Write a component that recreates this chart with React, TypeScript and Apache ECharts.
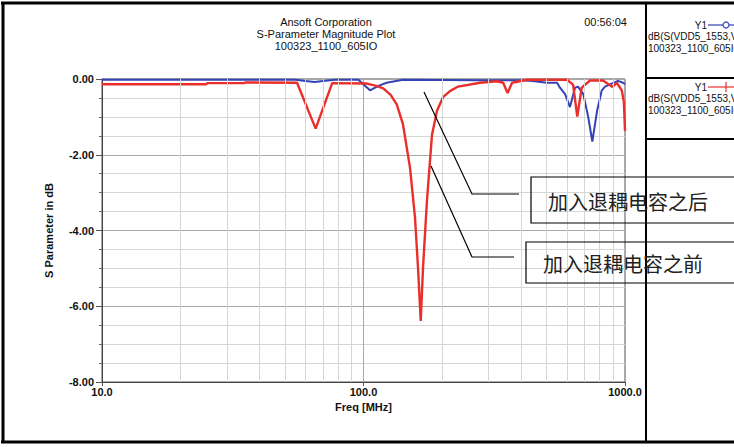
import React, { useEffect, useRef } from 'react';
import * as echarts from 'echarts';

// Frequencies in MHz and magnitudes in dB
const redFreq = [10, 25, 25.3, 35, 35.3, 55.7, 65.6, 75.9, 103, 112, 119, 127, 134, 141.6, 150.6, 157.4, 161.6, 165.5, 168.9, 174.9, 182.8, 191, 201.4, 214.1, 230, 279, 324, 342, 355.6, 370, 422, 600, 633, 657, 683, 735, 824, 896, 930, 972, 990, 1000];
const redDb = [-0.14, -0.14, -0.11, -0.11, -0.09, -0.1, -1.31, -0.11, -0.12, -0.18, -0.25, -0.42, -0.67, -1.2, -2.34, -3.66, -4.98, -6.39, -4.98, -3.2, -1.47, -0.84, -0.48, -0.32, -0.2, -0.1, -0.06, -0.1, -0.37, -0.1, -0.02, -0.02, -0.15, -0.99, -0.23, -0.04, -0.04, -0.21, -0.1, -0.3, -0.6, -1.37];

const blueFreq = [10, 55, 60, 65, 70, 78, 95.6, 105.9, 114, 122.6, 141.6, 279, 400, 445, 502, 550, 564, 590, 616, 644, 661, 693, 724, 750, 782, 815, 839, 890, 940, 983, 1000];
const blueDb = [-0.02, -0.02, -0.05, -0.08, -0.05, -0.02, -0.02, -0.3, -0.18, -0.1, -0.02, -0.03, -0.03, -0.05, -0.1, -0.1, -0.23, -0.4, -0.74, -0.23, -0.2, -0.4, -1.02, -1.65, -0.84, -0.3, -0.2, -0.12, -0.05, -0.1, -0.14];

const xMinorGrid = [20, 30, 40, 50, 60, 70, 80, 90, 200, 300, 400, 500, 600, 700, 800, 900];

const titleLines = ['Ansoft Corporation', 'S-Parameter Magnitude Plot', '100323_1100_605IO'];
const timeStamp = '00:56:04';
const legendTraces = ['dB(S(VDD5_1553,VDD5_1553))', 'dB(S(VDD5_1553,VDD5_1553))'];
const legendProject = '100323_1100_605IO';
const annotations = ['加入退耦电容之后', '加入退耦电容之前'];

const BLUE = '#3342b4';
const RED = '#ea2f2a';
const FONT = 'Liberation Sans, Arial, sans-serif';

export default function App() {
  const ref = useRef<HTMLDivElement>(null);

  useEffect(() => {
    if (!ref.current) return;
    const chart = echarts.init(ref.current, undefined, { renderer: 'svg' });

    const txt = (text: string, x: number, y: number, size: number, align = 'left', extra: any = {}) => ({
      type: 'text',
      x,
      y,
      z: 100,
      silent: true,
      style: {
        text,
        fontSize: size,
        fontFamily: FONT,
        fill: '#111',
        align,
        textAlign: align,
        verticalAlign: 'middle',
        textVerticalAlign: 'middle',
        ...extra,
      },
    });
    const ln = (x1: number, y1: number, x2: number, y2: number, w: number, color = '#000') => ({
      type: 'line',
      z: 100,
      silent: true,
      shape: { x1, y1, x2, y2 },
      style: { stroke: color, lineWidth: w },
    });

    const graphics: any[] = [
      // outer frame and panel dividers
      ln(1, 3, 734, 3, 3),
      ln(3, 2, 3, 443, 3),
      ln(1, 442, 734, 442, 3),
      ln(646, 2, 646, 443, 2),
      ln(646, 78, 734, 78, 2),
      ln(646, 139, 734, 139, 2),
      // titles
      txt(titleLines[0], 326, 22, 11, 'center'),
      txt(titleLines[1], 326, 34, 11, 'center'),
      txt(titleLines[2], 326, 46, 11, 'center'),
      txt(timeStamp, 627, 22, 11, 'right'),
      // legend panel
      txt('Y1', 707, 25, 10, 'right'),
      ln(708, 25, 734, 25, 1.2, BLUE),
      {
        type: 'circle', z: 101, silent: true,
        shape: { cx: 726, cy: 25, r: 3 },
        style: { fill: '#fff', stroke: BLUE, lineWidth: 1.2 },
      },
      txt(legendTraces[0], 648, 36.5, 10),
      txt(legendProject, 648, 48, 10),
      txt('Y1', 707, 87, 10, 'right'),
      ln(708, 87, 734, 87, 1.2, RED),
      ln(726, 82, 726, 92, 1.2, RED),
      txt(legendTraces[1], 648, 98.5, 10),
      txt(legendProject, 648, 110, 10),
      // annotation leader lines
      {
        type: 'polyline', z: 100, silent: true,
        shape: { points: [[424, 92], [472, 194], [519, 194]] },
        style: { stroke: '#000', lineWidth: 1.2, fill: 'none' },
      },
      {
        type: 'polyline', z: 100, silent: true,
        shape: { points: [[431, 166], [472, 257], [514, 257]] },
        style: { stroke: '#000', lineWidth: 1.2, fill: 'none' },
      },
      // annotation boxes
      {
        type: 'rect', z: 100, silent: true,
        shape: { x: 531, y: 177, width: 240, height: 46 },
        style: { fill: 'none', stroke: '#000', lineWidth: 1.2 },
      },
      {
        type: 'rect', z: 100, silent: true,
        shape: { x: 526, y: 242, width: 240, height: 41 },
        style: { fill: 'none', stroke: '#000', lineWidth: 1.2 },
      },
      txt(annotations[0], 548, 201, 20, 'left', { fontFamily: 'Noto Sans CJK SC', fill: '#222' }),
      txt(annotations[1], 543, 263, 20, 'left', { fontFamily: 'Noto Sans CJK SC', fill: '#222' }),
    ];

    chart.setOption({
      animation: false,
      grid: {
        left: 102,
        right: 109,
        top: 79,
        bottom: 65,
        show: true,
        borderColor: '#555',
        borderWidth: 1,
        backgroundColor: 'transparent',
      },
      xAxis: {
        type: 'log',
        logBase: 10,
        min: 10,
        max: 1000,
        axisLine: { show: true, onZero: false, lineStyle: { color: '#444', width: 1 } },
        axisTick: { show: true, length: 4, lineStyle: { color: '#555' } },
        axisLabel: {
          formatter: (v: number) => Number(v).toFixed(1),
          fontWeight: 'bold',
          fontSize: 11,
          fontFamily: FONT,
          color: '#111',
          margin: 4,
        },
        splitLine: { show: true, lineStyle: { color: '#a8a8a8', width: 1 } },
        name: 'Freq [MHz]',
        nameLocation: 'middle',
        nameGap: 19,
        nameTextStyle: { fontWeight: 'bold', fontSize: 11, fontFamily: FONT, color: '#111' },
      },
      yAxis: {
        type: 'value',
        min: -8,
        max: 0,
        interval: 2,
        axisLine: { show: true, onZero: false, lineStyle: { color: '#444', width: 1 } },
        axisTick: { show: true, length: 6, lineStyle: { color: '#555' } },
        minorTick: { show: true, splitNumber: 4, length: 3, lineStyle: { color: '#666' } },
        axisLabel: {
          formatter: (v: number) => (Math.abs(v) < 1e-9 ? '0.00' : v.toFixed(2)),
          fontWeight: 'bold',
          fontSize: 11,
          fontFamily: FONT,
          color: '#111',
          margin: 8,
        },
        splitLine: { show: true, lineStyle: { color: '#a8a8a8', width: 1 } },
        minorSplitLine: { show: true, lineStyle: { color: '#d6d6d6', width: 1 } },
        name: 'S Parameter in dB',
        nameLocation: 'middle',
        nameGap: 48,
        nameTextStyle: { fontWeight: 'bold', fontSize: 11, fontFamily: FONT, color: '#111' },
      },
      series: [
        {
          // helper series carrying the minor log grid lines and their ticks
          type: 'line',
          name: 'grid',
          z: 1,
          silent: true,
          clip: false,
          symbol: 'none',
          data: [[10, 0]],
          lineStyle: { opacity: 0 },
          markLine: {
            silent: true,
            symbol: 'none',
            animation: false,
            label: { show: false },
            emphasis: { disabled: true },
            data: [
              ...xMinorGrid.map((f) => ({
                xAxis: f,
                lineStyle: { color: '#d6d6d6', width: 1, type: 'solid' },
              })),
              ...xMinorGrid.map((f) => [
                { coord: [f, -8], lineStyle: { color: '#666', width: 1, type: 'solid' } },
                { coord: [f, -8.09] },
              ]),
            ],
          },
        },
        {
          type: 'line',
          name: 'after',
          z: 3,
          symbol: 'none',
          showSymbol: false,
          data: blueFreq.map((f, i) => [f, blueDb[i]]),
          lineStyle: { color: BLUE, width: 2 },
          itemStyle: { color: BLUE },
        },
        {
          type: 'line',
          name: 'before',
          z: 4,
          symbol: 'none',
          showSymbol: false,
          data: redFreq.map((f, i) => [f, redDb[i]]),
          lineStyle: { color: RED, width: 2.4 },
          itemStyle: { color: RED },
        },
      ],
      graphic: graphics,
    });

    return () => chart.dispose();
  }, []);

  return (
    <div
      ref={ref}
      style={{ position: 'fixed', left: 0, top: 0, width: 734, height: 447, background: '#fff' }}
    />
  );
}
